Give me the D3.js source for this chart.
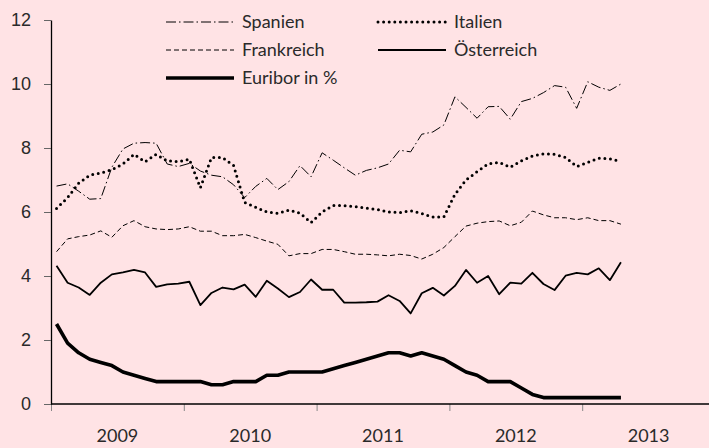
<!DOCTYPE html>
<html>
<head>
<meta charset="utf-8">
<script src="https://cdn.jsdelivr.net/npm/d3@7"></script>
<style>
  body { margin: 0; background: #ffe3e5; }
  svg { display: block; font-family: 'Lato', sans-serif; }
  .axis text { font-size: 18px; fill: #2a2a2a; }
  .legend-text { font-size: 18px; fill: #2a2a2a; }
</style>
</head>
<body>
<div id="vis"></div>
<script>
// monthly values, Jan 2009 - Apr 2013
var startYear = 2009;
var yearLabels = ['2009', '2010', '2011', '2012', '2013'];
var yTicks = [0, 2, 4, 6, 8, 10, 12];

var spanien = [6.81, 6.88, 6.65, 6.4, 6.42, 7.4, 7.97, 8.15, 8.17, 8.15, 7.5, 7.42,
               7.52, 7.28, 7.15, 7.1, 6.85, 6.45, 6.8, 7.05, 6.7, 6.95, 7.45, 7.1,
               7.85, 7.62, 7.38, 7.15, 7.3, 7.38, 7.5, 7.93, 7.88, 8.43, 8.5, 8.72,
               9.6, 9.27, 8.93, 9.29, 9.3, 8.9, 9.45, 9.55, 9.73, 9.95, 9.9, 9.24,
               10.07, 9.9, 9.8, 10.0];
var italien = [6.11, 6.45, 6.9, 7.15, 7.22, 7.32, 7.5, 7.8, 7.57, 7.8, 7.6, 7.57,
               7.65, 6.76, 7.7, 7.7, 7.45, 6.3, 6.15, 6.0, 5.96, 6.06, 5.96, 5.67,
               6.0, 6.2, 6.2, 6.17, 6.12, 6.08, 6.0, 5.98, 6.04, 5.95, 5.84, 5.85,
               6.55, 7.0, 7.26, 7.5, 7.55, 7.4, 7.6, 7.75, 7.82, 7.8, 7.7, 7.42,
               7.55, 7.68, 7.66, 7.58];
var frankreich = [4.76, 5.16, 5.23, 5.28, 5.41, 5.21, 5.57, 5.73, 5.54, 5.47, 5.45, 5.47,
                  5.54, 5.4, 5.4, 5.26, 5.26, 5.3, 5.2, 5.09, 4.99, 4.63, 4.7, 4.7,
                  4.83, 4.83, 4.76, 4.68, 4.68, 4.66, 4.63, 4.68, 4.64, 4.53, 4.68, 4.89,
                  5.23, 5.56, 5.65, 5.7, 5.72, 5.57, 5.68, 6.03, 5.91, 5.82, 5.82, 5.76,
                  5.82, 5.73, 5.73, 5.62];
var oesterreich = [4.32, 3.79, 3.64, 3.41, 3.79, 4.05, 4.11, 4.19, 4.11, 3.66, 3.74, 3.76,
                   3.82, 3.09, 3.47, 3.64, 3.58, 3.73, 3.35, 3.85, 3.61, 3.34, 3.5, 3.89,
                   3.57, 3.57, 3.17, 3.17, 3.18, 3.2, 3.4, 3.22, 2.83, 3.46, 3.63, 3.39,
                   3.69, 4.19, 3.79, 4.0, 3.43, 3.79, 3.76, 4.1, 3.75, 3.56, 4.01, 4.1,
                   4.05, 4.24, 3.87, 4.43];
var euribor = [2.5, 1.9, 1.6, 1.4, 1.3, 1.2, 1.0, 0.9, 0.8, 0.7, 0.7, 0.7,
               0.7, 0.7, 0.6, 0.6, 0.7, 0.7, 0.7, 0.9, 0.9, 1.0, 1.0, 1.0,
               1.0, 1.1, 1.2, 1.3, 1.4, 1.5, 1.6, 1.6, 1.5, 1.6, 1.5, 1.4,
               1.2, 1.0, 0.9, 0.7, 0.7, 0.7, 0.5, 0.3, 0.2, 0.2, 0.2, 0.2,
               0.2, 0.2, 0.2, 0.2];

var seriesNames = ['Spanien', 'Italien', 'Frankreich', 'Österreich', 'Euribor in %'];

var width = 709, height = 448;
var margin = {left: 51, top: 20, right: 0, bottom: 44};
var drawHeight = height - margin.top - margin.bottom;

var svg = d3.select('#vis')
            .append('svg')
            .attr('width', width)
            .attr('height', height);

svg.append('rect')
   .attr('width', width)
   .attr('height', height)
   .attr('fill', '#ffe3e5');

var xScale = d3.scaleLinear()
               .domain([startYear, startYear + 5])
               .range([margin.left, margin.left + 5 * 132.8]);

var yScale = d3.scaleLinear()
               .domain([0, 12])
               .range([margin.top + drawHeight, margin.top]);

// x axis
var xAxis = d3.axisBottom(xScale)
              .tickValues(d3.range(startYear, startYear + 5))
              .tickFormat('')
              .tickSize(7)
              .tickSizeOuter(0);

var xAxisG = svg.append('g')
                .attr('class', 'axis')
                .attr('transform', `translate(0, ${yScale(0)})`)
                .call(xAxis);
xAxisG.select('.domain').remove();
xAxisG.selectAll('.tick line').attr('stroke', '#888');
svg.append('line')
   .attr('x1', margin.left).attr('x2', width)
   .attr('y1', yScale(0)).attr('y2', yScale(0))
   .attr('stroke', '#000').attr('stroke-width', 1.3);

svg.selectAll('.year-label')
   .data(yearLabels)
   .enter()
   .append('text')
   .attr('class', 'year-label')
   .attr('x', (d, i) => xScale(startYear + i + 0.5))
   .attr('y', 442)
   .attr('text-anchor', 'middle')
   .style('font-size', '18px')
   .style('fill', '#2a2a2a')
   .text((d) => d);

// y axis
var yAxis = d3.axisLeft(yScale)
              .tickValues(yTicks)
              .tickSize(7)
              .tickPadding(13)
              .tickSizeOuter(0);

var yAxisG = svg.append('g')
                .attr('class', 'axis')
                .attr('transform', `translate(${margin.left}, 0)`)
                .call(yAxis);
yAxisG.select('.domain').attr('stroke', '#000').attr('stroke-width', 1.3);
yAxisG.selectAll('.tick line').attr('stroke', '#666');

// lines
var xOf = (i) => xScale(startYear + (i + 0.5) / 12);
var line = d3.line()
             .x((d, i) => xOf(i))
             .y((d) => yScale(d));

var styles = [
    {data: spanien, width: 1, dash: '10,3,1.5,3', cap: 'butt'},
    {data: italien, width: 3, dash: '0,5.6', cap: 'round'},
    {data: frankreich, width: 1, dash: '5,3', cap: 'butt'},
    {data: oesterreich, width: 1.8, dash: null, cap: 'butt'},
    {data: euribor, width: 3.6, dash: null, cap: 'butt'}
];

svg.selectAll('.series')
   .data(styles)
   .enter()
   .append('path')
   .attr('class', 'series')
   .attr('d', (d) => line(d.data))
   .attr('fill', 'none')
   .attr('stroke', '#000')
   .attr('stroke-width', (d) => d.width)
   .attr('stroke-dasharray', (d) => d.dash)
   .attr('stroke-linecap', (d) => d.cap)
   .attr('stroke-linejoin', 'round');

// legend
var legendPos = [[166, 22], [378, 22], [166, 50], [378, 50], [166, 78]];
var legend = svg.selectAll('.legend')
                .data(styles)
                .enter()
                .append('g')
                .attr('class', 'legend')
                .attr('transform', (d, i) => `translate(${legendPos[i][0]}, ${legendPos[i][1]})`);

legend.append('line')
      .attr('x1', 0).attr('x2', 68)
      .attr('y1', 0).attr('y2', 0)
      .attr('stroke', '#000')
      .attr('stroke-width', (d) => d.width)
      .attr('stroke-dasharray', (d) => d.dash)
      .attr('stroke-linecap', (d) => d.cap);

legend.append('text')
      .attr('class', 'legend-text')
      .attr('x', 76)
      .attr('dy', '0.35em')
      .text((d, i) => seriesNames[i]);
</script>
</body>
</html>
